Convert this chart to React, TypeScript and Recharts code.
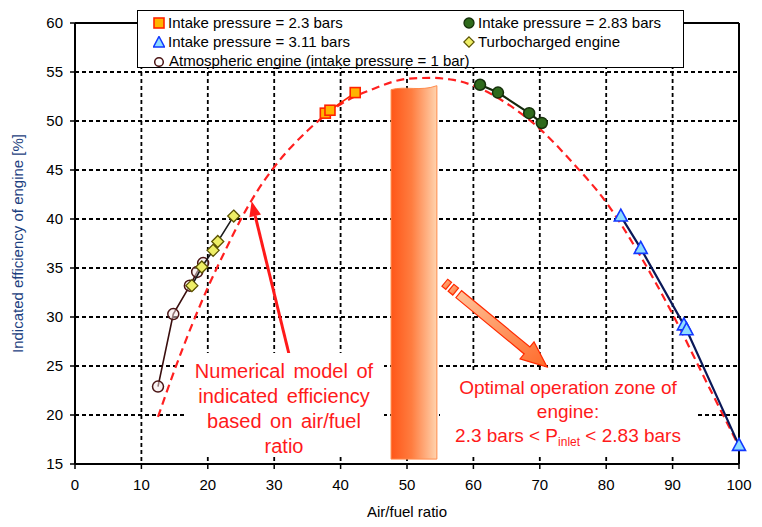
import {
    CartesianGrid,
    ComposedChart,
    Label,
    Line,
    ReferenceArea,
    ReferenceLine,
    Scatter,
    XAxis,
    YAxis,
} from 'recharts';

type Pt = { x: number; y: number };

const xTicks = [0, 10, 20, 30, 40, 50, 60, 70, 80, 90, 100];
const yTicks = [15, 20, 25, 30, 35, 40, 45, 50, 55, 60];

const intake230: Pt[] = [
    { x: 37.7, y: 50.8 },
    { x: 38.4, y: 51.1 },
    { x: 42.2, y: 52.9 },
];

const intake283: Pt[] = [
    { x: 61.0, y: 53.7 },
    { x: 63.7, y: 52.9 },
    { x: 68.4, y: 50.8 },
    { x: 70.3, y: 49.8 },
];

const intake311: Pt[] = [
    { x: 82.2, y: 40.3 },
    { x: 85.2, y: 37.0 },
    { x: 91.7, y: 29.2 },
    { x: 92.1, y: 28.7 },
    { x: 100.0, y: 16.9 },
];

const turbocharged: Pt[] = [
    { x: 17.6, y: 33.2 },
    { x: 19.1, y: 35.1 },
    { x: 20.8, y: 36.8 },
    { x: 21.5, y: 37.7 },
    { x: 23.9, y: 40.3 },
];

const atmospheric: Pt[] = [
    { x: 12.5, y: 22.9 },
    { x: 14.8, y: 30.3 },
    { x: 17.3, y: 33.2 },
    { x: 18.4, y: 34.6 },
    { x: 19.3, y: 35.5 },
];

// numerical efficiency model vs. air/fuel ratio
const modelCurve: Pt[] = [
    { x: 12.5, y: 19.8 },
    { x: 15, y: 24.6 },
    { x: 17.5, y: 29.0 },
    { x: 20, y: 33.0 },
    { x: 22.5, y: 36.6 },
    { x: 25, y: 40.0 },
    { x: 27.5, y: 42.9 },
    { x: 30, y: 45.3 },
    { x: 35, y: 49.0 },
    { x: 40, y: 51.7 },
    { x: 45, y: 53.3 },
    { x: 50, y: 54.3 },
    { x: 53.5, y: 54.4 },
    { x: 57, y: 54.2 },
    { x: 60, y: 53.6 },
    { x: 65, y: 51.8 },
    { x: 70, y: 49.2 },
    { x: 75, y: 45.7 },
    { x: 80, y: 41.7 },
    { x: 85, y: 36.4 },
    { x: 90, y: 30.3 },
    { x: 95, y: 23.5 },
    { x: 100, y: 16.8 },
];

// optimal operating band (air/fuel ratio range) and the arrows pointing at things
const optimalZone = { x1: 47.6, x2: 54.5, y1: 15.5, y2: 53.5 };
const modelArrow = [
    { x: 32.2, y: 26.3 },
    { x: 26.6, y: 41.8 },
];
const zoneArrow = [
    { x: 55.7, y: 33.5 },
    { x: 71.1, y: 24.9 },
];

const FONT = "'Liberation Sans', Arial, sans-serif";
const RED = '#ff1a1a';

const squareShape = (p: any) => (
    <rect
        x={p.cx - 5}
        y={p.cy - 5}
        width={10}
        height={10}
        fill="#ffb400"
        stroke="#ff2200"
        strokeWidth={1.6}
    />
);

const greenDot = (p: any) => (
    <circle cx={p.cx} cy={p.cy} r={5.5} fill="#2f6a1c" stroke="#15300a" strokeWidth={1.5} />
);

const triangleShape = (p: any) => (
    <path
        d={`M${p.cx},${p.cy - 7} L${p.cx + 6.5},${p.cy + 5} L${p.cx - 6.5},${p.cy + 5} Z`}
        fill="#8fdcff"
        stroke="#1238ff"
        strokeWidth={1.6}
    />
);

const diamondShape = (p: any) => (
    <path
        d={`M${p.cx},${p.cy - 6} L${p.cx + 6},${p.cy} L${p.cx},${p.cy + 6} L${p.cx - 6},${p.cy} Z`}
        fill="#eeee66"
        stroke="#5a5200"
        strokeWidth={1.3}
    />
);

const openCircle = (p: any) => (
    <circle cx={p.cx} cy={p.cy} r={5.5} fill="#f6e6e6" fillOpacity={0.5} stroke="#4a1414" strokeWidth={1.5} />
);

const zoneShape = (p: any) => {
    const { x, y, width, height } = p;
    const d = `M${x},${y + 3} C${x + width * 0.3},${y - 1} ${x + width * 0.65},${y + 5} ${x + width},${y - 1} L${x + width},${y + height} L${x},${y + height} Z`;
    return <path d={d} fill="url(#zoneFill)" stroke="#ff8a4a" strokeWidth={1} />;
};

const thinArrow = (p: any) => {
    const { x1, y1, x2, y2 } = p;
    const len = Math.hypot(x2 - x1, y2 - y1);
    const ux = (x2 - x1) / len;
    const uy = (y2 - y1) / len;
    const bx = x2 - ux * 15;
    const by = y2 - uy * 15;
    return (
        <g>
            <line x1={x1} y1={y1} x2={bx} y2={by} stroke={RED} strokeWidth={3} />
            <path
                d={`M${x2},${y2} L${bx - uy * 6},${by + ux * 6} L${bx + uy * 6},${by - ux * 6} Z`}
                fill={RED}
            />
        </g>
    );
};

const blockArrow = (p: any) => {
    const { x1, y1, x2, y2 } = p;
    const len = Math.hypot(x2 - x1, y2 - y1);
    const ux = (x2 - x1) / len;
    const uy = (y2 - y1) / len;
    const nx = -uy;
    const ny = ux;
    const at = (s: number, w: number) => `${x1 + ux * s + nx * w},${y1 + uy * s + ny * w}`;
    const seg = (a: number, b: number, w: number) =>
        `M${at(a, w)} L${at(b, w)} L${at(b, -w)} L${at(a, -w)} Z`;
    const head = len - 26;
    const body = `M${at(18, 4.5)} L${at(head, 4.5)} L${at(head, 11)} L${at(len, 0)} L${at(head, -11)} L${at(head, -4.5)} L${at(18, -4.5)} Z`;
    return (
        <g stroke="#ff2a00" strokeWidth={1.2} fill="url(#arrowFill)">
            <path d={seg(0, 5, 4.5)} />
            <path d={seg(8, 14, 4.5)} />
            <path d={body} />
        </g>
    );
};

type LegendItem = { label: string; marker: JSX.Element; left: number; top: number };

const legendItems: LegendItem[] = [
    {
        label: 'Intake pressure = 2.3 bars',
        left: 15,
        top: 3,
        marker: <rect x={1} y={1} width={10} height={10} fill="#ffb400" stroke="#ff2200" strokeWidth={1.6} />,
    },
    {
        label: 'Intake pressure = 2.83 bars',
        left: 325,
        top: 3,
        marker: <circle cx={6} cy={6} r={5} fill="#2f6a1c" stroke="#15300a" strokeWidth={1.3} />,
    },
    {
        label: 'Intake pressure = 3.11 bars',
        left: 15,
        top: 22,
        marker: <path d="M6,0.5 L11.5,11 L0.5,11 Z" fill="#8fdcff" stroke="#1238ff" strokeWidth={1.5} />,
    },
    {
        label: 'Turbocharged engine',
        left: 325,
        top: 22,
        marker: <path d="M6,0.8 L11.2,6 L6,11.2 L0.8,6 Z" fill="#eeee66" stroke="#5a5200" strokeWidth={1.2} />,
    },
    {
        label: 'Atmospheric engine (intake pressure = 1 bar)',
        left: 16,
        top: 41,
        marker: <circle cx={5} cy={7} r={4.3} fill="none" stroke="#4a1414" strokeWidth={1.5} />,
    },
];

export default function App() {
    return (
        <div
            style={{
                position: 'absolute',
                left: 0,
                top: 0,
                width: 762,
                height: 527,
                background: '#fff',
                fontFamily: FONT,
            }}
        >
            <ComposedChart width={762} height={527} margin={{ top: 23, right: 23, bottom: 8, left: 5 }}>
                <defs>
                    <linearGradient id="zoneFill" x1="0" y1="0" x2="1" y2="0">
                        <stop offset="0%" stopColor="#ff5618" />
                        <stop offset="45%" stopColor="#ff7d40" />
                        <stop offset="100%" stopColor="#ffd3ae" />
                    </linearGradient>
                    <linearGradient id="arrowFill" x1="0" y1="0" x2="1" y2="1">
                        <stop offset="0%" stopColor="#ffc49a" />
                        <stop offset="100%" stopColor="#ff6a2a" />
                    </linearGradient>
                </defs>
                <CartesianGrid stroke="#000" strokeWidth={1.8} strokeDasharray="4 3" />
                <XAxis
                    type="number"
                    dataKey="x"
                    domain={[0, 100]}
                    ticks={xTicks}
                    height={55}
                    tickSize={5}
                    tickMargin={10}
                    axisLine={{ stroke: '#000', strokeWidth: 2 }}
                    tickLine={{ stroke: '#000', strokeWidth: 1.5 }}
                    tick={{ fill: '#000', fontSize: 15, fontFamily: FONT }}
                >
                    <Label
                        value="Air/fuel ratio"
                        position="insideBottom"
                        offset={2}
                        style={{ fill: '#000', fontSize: 15, fontFamily: FONT }}
                    />
                </XAxis>
                <YAxis
                    type="number"
                    dataKey="y"
                    domain={[15, 60]}
                    ticks={yTicks}
                    width={70}
                    tickSize={5}
                    tickMargin={7}
                    allowDataOverflow
                    axisLine={{ stroke: '#000', strokeWidth: 2 }}
                    tickLine={{ stroke: '#000', strokeWidth: 1.5 }}
                    tick={{ fill: '#000', fontSize: 15, fontFamily: FONT }}
                >
                    <Label
                        value="Indicated efficiency of engine [%]"
                        angle={-90}
                        position="insideLeft"
                        offset={13}
                        style={{ fill: '#1c3f80', fontSize: 15, fontFamily: FONT, textAnchor: 'middle' }}
                    />
                </YAxis>
                <ReferenceArea
                    x1={optimalZone.x1}
                    x2={optimalZone.x2}
                    y1={optimalZone.y1}
                    y2={optimalZone.y2}
                    shape={zoneShape}
                />
                <ReferenceLine y={60} stroke="#000" strokeWidth={2} />
                <ReferenceLine x={100} stroke="#000" strokeWidth={2} />
                <Line
                    data={modelCurve}
                    dataKey="y"
                    type="monotone"
                    stroke="#ff2020"
                    strokeWidth={2.2}
                    strokeDasharray="8 5"
                    dot={false}
                    activeDot={false}
                    isAnimationActive={false}
                />
                <Scatter
                    data={atmospheric}
                    line={{ stroke: '#3a0e0e', strokeWidth: 1.6 }}
                    shape={openCircle}
                    isAnimationActive={false}
                />
                <Scatter
                    data={turbocharged}
                    line={{ stroke: '#1a1a1a', strokeWidth: 1.6 }}
                    shape={diamondShape}
                    isAnimationActive={false}
                />
                <Scatter
                    data={intake230}
                    line={{ stroke: '#ff2200', strokeWidth: 1.6 }}
                    shape={squareShape}
                    isAnimationActive={false}
                />
                <Scatter
                    data={intake283}
                    line={{ stroke: '#14280c', strokeWidth: 2.2 }}
                    shape={greenDot}
                    isAnimationActive={false}
                />
                <Scatter
                    data={intake311}
                    line={{ stroke: '#0a1858', strokeWidth: 2.2 }}
                    shape={triangleShape}
                    isAnimationActive={false}
                />
                <ReferenceLine segment={modelArrow} shape={thinArrow} />
                <ReferenceLine segment={zoneArrow} shape={blockArrow} />
            </ComposedChart>

            <div
                style={{
                    position: 'absolute',
                    left: 137,
                    top: 10,
                    width: 547,
                    height: 58,
                    boxSizing: 'border-box',
                    border: '1.5px solid #000',
                    background: '#fff',
                    fontSize: 15,
                    color: '#000',
                }}
            >
                {legendItems.map((item) => (
                    <div
                        key={item.label}
                        style={{
                            position: 'absolute',
                            left: item.left,
                            top: item.top,
                            display: 'flex',
                            alignItems: 'center',
                            whiteSpace: 'nowrap',
                            lineHeight: '18px',
                        }}
                    >
                        <svg width={12} height={12} style={{ marginRight: 3 }}>
                            {item.marker}
                        </svg>
                        {item.label}
                    </div>
                ))}
            </div>

            <div
                style={{
                    position: 'absolute',
                    left: 184,
                    top: 353,
                    width: 200,
                    height: 102,
                    paddingTop: 6,
                    boxSizing: 'border-box',
                    background: '#fff',
                    textAlign: 'center',
                    color: RED,
                    fontSize: 20,
                    lineHeight: '25px',
                    wordSpacing: 3,
                    whiteSpace: 'nowrap',
                }}
            >
                Numerical model of
                <br />
                indicated efficiency
                <br />
                based on air/fuel
                <br />
                ratio
            </div>

            <div
                style={{
                    position: 'absolute',
                    left: 440,
                    top: 372,
                    width: 256,
                    height: 84,
                    paddingTop: 4,
                    boxSizing: 'border-box',
                    background: '#fff',
                    textAlign: 'center',
                    color: RED,
                    fontSize: 19,
                    lineHeight: '24px',
                    whiteSpace: 'nowrap',
                }}
            >
                Optimal operation zone of
                <br />
                engine:
                <br />
                2.3 bars &lt; P
                <span style={{ fontSize: 12, verticalAlign: '-4px', lineHeight: 0 }}>inlet</span> &lt; 2.83 bars
            </div>
        </div>
    );
}
